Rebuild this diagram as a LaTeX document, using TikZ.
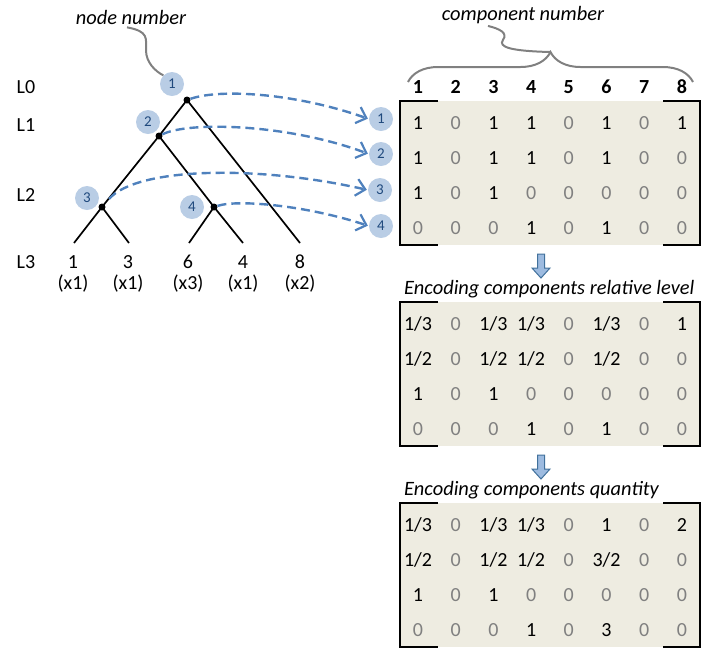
\documentclass[tikz,border=0pt]{standalone}
\usepackage{fontspec}
\setmainfont{Carlito}
\usetikzlibrary{arrows.meta, calc, positioning, decorations.pathreplacing}
\definecolor{offbeige}{HTML}{EEECE1}
\definecolor{offblue}{HTML}{4F81BD}
\definecolor{offpale}{HTML}{B9CDE5}
\definecolor{offnavy}{HTML}{1F497D}
\definecolor{offgrey}{HTML}{808080}
\definecolor{offsky}{HTML}{9DBBE0}
\definecolor{offdeep}{HTML}{41719C}

\def\cellzero{0}
\newcommand{\cellval}[1]{\edef\celltmp{#1}\ifx\celltmp\cellzero\textcolor{offgrey}{#1}\else#1\fi}

\tikzset{
  badge/.style={circle, fill=offpale, minimum size=24pt, inner sep=0pt, text=offnavy, font=\fontsize{15}{15}\selectfont},
  fork/.style={circle, fill=black, minimum size=7pt, inner sep=0pt},
  branch/.style={line width=1.7pt},
  lbl/.style={inner sep=0pt, font=\fontsize{20}{20}\selectfont},
  cell/.style={inner sep=0pt, font=\fontsize{20}{20}\selectfont},
  head/.style={inner sep=0pt, font=\fontsize{20}{20}\selectfont\bfseries},
  note/.style={inner sep=0pt, font=\fontsize{20.4}{20.4}\selectfont\itshape},
  maplink/.style={offblue, line width=2.4pt, dash pattern=on 9pt off 5pt,
    -{Straight Barb[length=9pt, width=17pt, line width=2.2pt]}},
  squiggle/.style={offgrey, line width=2pt},
  frame/.style={line width=2.2pt},
  blockarrow/.style={fill=offsky, draw=offdeep, line width=1pt}
}

\begin{document}
\begin{tikzpicture}[x=1pt, y=-1pt]
        \useasboundingbox (0,0) rectangle (705,649);

        % tree
        \node [fork] (R) at (187, 100) {};
        \node [fork] (S) at (159, 136) {};
        \node [fork] (T) at (102, 207) {};
        \node [fork] (U) at (214, 207) {};
        \coordinate (E1) at (74, 243);
        \coordinate (E3) at (129, 243);
        \coordinate (E6) at (189, 243);
        \coordinate (E4) at (243, 243);
        \coordinate (E8) at (300, 243);
        \draw [branch] (R.center) -- (S.center);
        \draw [branch] (S.center) -- (T.center);
        \draw [branch] (T.center) -- (E1);
        \draw [branch] (T.center) -- (E3);
        \draw [branch] (S.center) -- (U.center);
        \draw [branch] (U.center) -- (E6);
        \draw [branch] (U.center) -- (E4);
        \draw [branch] (R.center) -- (E8);

        \node [lbl] (K1) at (73, 262) {1};
        \node [lbl] (K3) at (128, 262) {3};
        \node [lbl] (K6) at (188, 262) {6};
        \node [lbl] (K4) at (243, 262) {4};
        \node [lbl] (K8) at (300, 262) {8};
        \node [lbl] (X1) at (73, 284) {(x1)};
        \node [lbl] (X3) at (128, 284) {(x1)};
        \node [lbl] (X6) at (188, 284) {(x3)};
        \node [lbl] (X4) at (243, 284) {(x1)};
        \node [lbl] (X8) at (300, 284) {(x2)};

        \node [lbl] (L0) at (26, 87) {L0};
        \node [lbl] (L1) at (26, 125) {L1};
        \node [lbl] (L2) at (26, 195) {L2};
        \node [lbl] (L3) at (26, 262) {L3};

        \node [badge] (B1) at (172, 84) {1};
        \node [badge] (B2) at (148, 122) {2};
        \node [badge] (B3) at (87, 198) {3};
        \node [badge] (B4) at (192, 207) {4};

        \node [badge] (C1) at (381, 119) {1};
        \node [badge] (C2) at (381, 154) {2};
        \node [badge] (C3) at (380, 190) {3};
        \node [badge] (C4) at (381, 226) {4};

        \draw [maplink, shorten >=1pt] (R) .. controls +(35,-12) and +(-70,-25) .. (C1.west);
        \draw [maplink, shorten >=1pt] (S) .. controls +(30,-15) and +(-80,-30) .. (C2.west);
        \draw [maplink, shorten <=7pt, shorten >=1pt] (T) .. controls +(35,-40) and +(-110,-25) .. (C3.west);
        \draw [maplink, shorten >=1pt] (U) .. controls +(25,-8) and +(-60,-20) .. (C4.west);

        \node [note] (NN) at (131, 17) {node number};
        \draw [squiggle] ([xshift=-4pt, yshift=-3pt]NN.south) .. controls +(22,4) and +(0,-12) .. ++(19,23)
            .. controls +(0,12) and +(-8,-4) .. (B1.north west);

        % matrix 1
        \fill [offbeige] (400, 101) rectangle (700, 245);
        \draw [frame] (438, 101) -- (400, 101) -- (400, 245) -- (438, 245);
        \draw [frame] (663, 101) -- (700, 101) -- (700, 245) -- (663, 245);
        \foreach \c in {1,...,8}
            \node [head] (H\c) at ({418+37.7*(\c-1)}, 87) {\c};
        \foreach \row [count=\r] in {{1,0,1,1,0,1,0,1},{1,0,1,1,0,1,0,0},{1,0,1,0,0,0,0,0},{0,0,0,1,0,1,0,0}}
            \foreach \v [count=\c] in \row
                \node [cell] (P\r-\c) at ({418+37.7*(\c-1)}, {123+35*(\r-1)}) {\cellval{\v}};

        \node [note] (CN) at (523, 15) {component number};
        \draw [squiggle, decorate, decoration={brace, amplitude=30pt}] (408, 82) -- (693, 82);
        \coordinate (CT) at (550, 52);
        \draw [squiggle] ([xshift=-35pt, yshift=-2pt]CN.south) .. controls +(12,3) and +(5,-7) .. ++(15,14)
            .. controls +(-5,7) and +(-40,-1) .. (CT);

        % matrix 2
        \draw [blockarrow] (537.5, 254) -- (544.5, 254) -- (544.5, 268) -- (550, 268) -- (541, 278)
            -- (532, 268) -- (537.5, 268) -- cycle;
        \node [note, anchor=west] (TL) at (404, 289) {Encoding components relative level};
        \fill [offbeige] (400, 302) rectangle (700, 446);
        \draw [frame] (438, 302) -- (400, 302) -- (400, 446) -- (438, 446);
        \draw [frame] (663, 302) -- (700, 302) -- (700, 446) -- (663, 446);
        \foreach \row [count=\r] in {{1/3,0,1/3,1/3,0,1/3,0,1},{1/2,0,1/2,1/2,0,1/2,0,0},{1,0,1,0,0,0,0,0},{0,0,0,1,0,1,0,0}}
            \foreach \v [count=\c] in \row
                \node [cell] (Q\r-\c) at ({418+37.7*(\c-1)}, {324+35*(\r-1)}) {\cellval{\v}};

        % matrix 3
        \draw [blockarrow] (537.5, 455) -- (544.5, 455) -- (544.5, 469) -- (550, 469) -- (541, 479)
            -- (532, 469) -- (537.5, 469) -- cycle;
        \node [note, anchor=west] (TQ) at (404, 490) {Encoding components quantity};
        \fill [offbeige] (400, 503) rectangle (700, 647);
        \draw [frame] (438, 503) -- (400, 503) -- (400, 647) -- (438, 647);
        \draw [frame] (663, 503) -- (700, 503) -- (700, 647) -- (663, 647);
        \foreach \row [count=\r] in {{1/3,0,1/3,1/3,0,1,0,2},{1/2,0,1/2,1/2,0,3/2,0,0},{1,0,1,0,0,0,0,0},{0,0,0,1,0,3,0,0}}
            \foreach \v [count=\c] in \row
                \node [cell] (W\r-\c) at ({418+37.7*(\c-1)}, {525+35*(\r-1)}) {\cellval{\v}};
    \end{tikzpicture}
\end{document}
